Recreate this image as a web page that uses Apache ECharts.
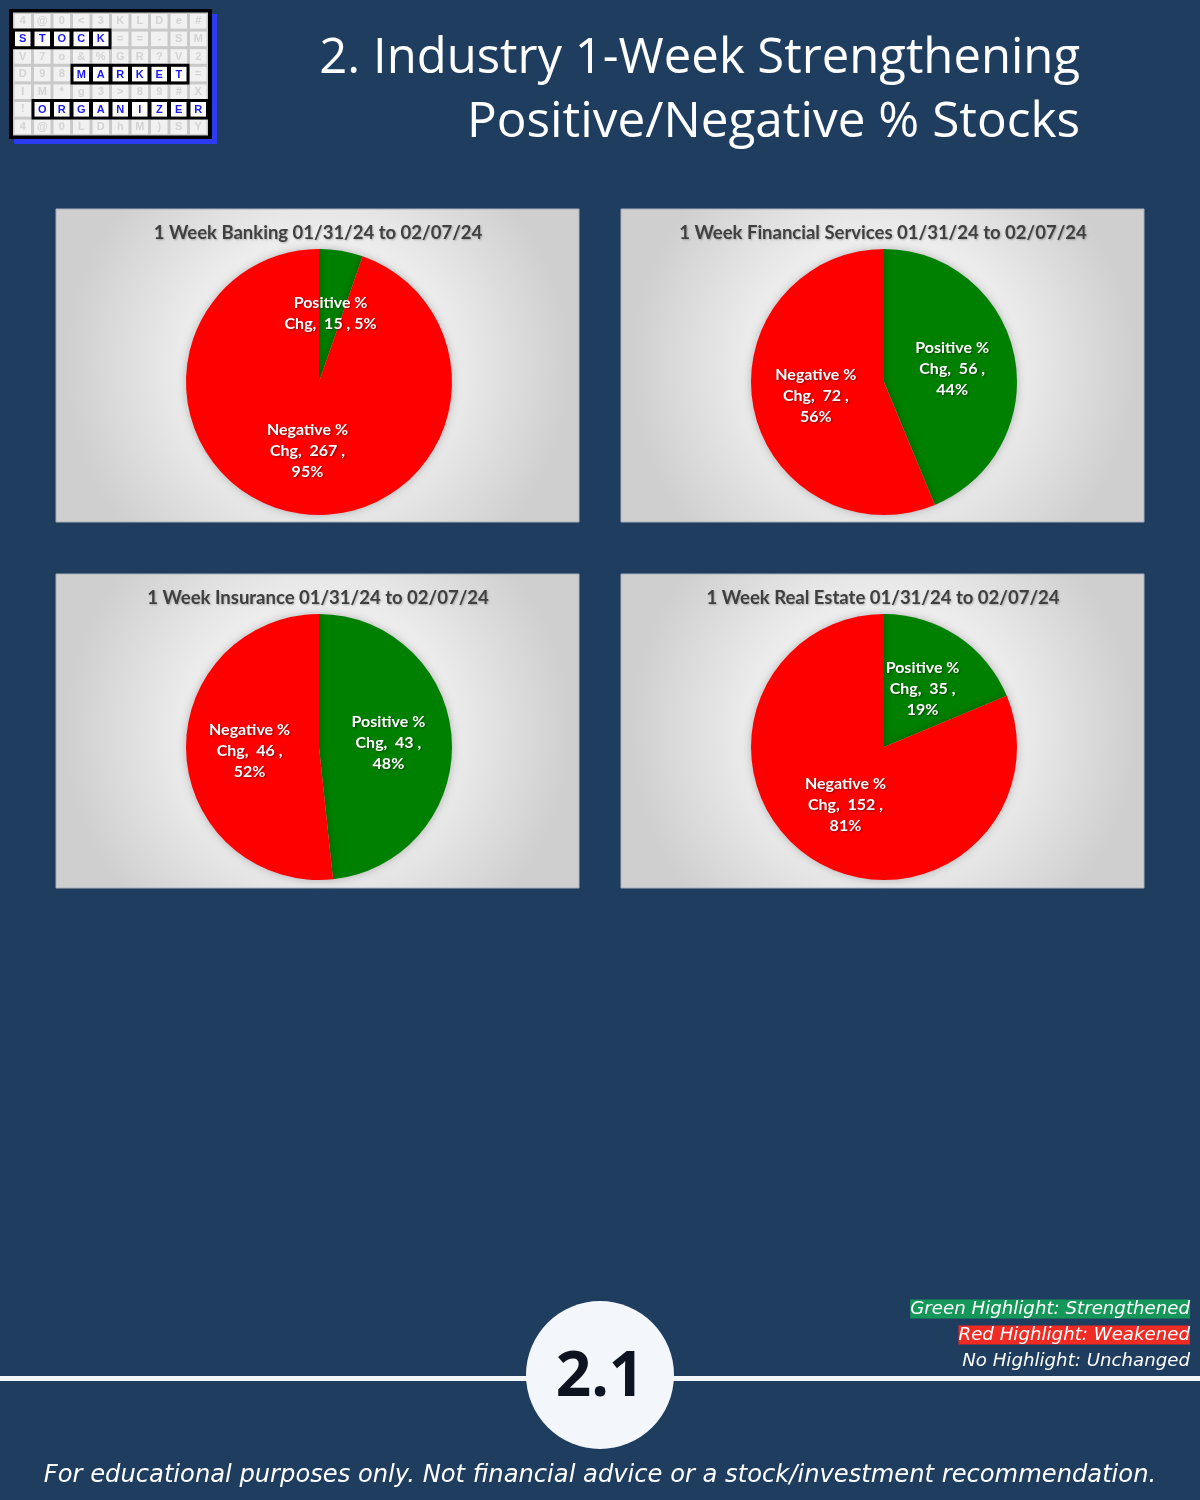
<!DOCTYPE html>
<html>
<head>
<meta charset="utf-8">
<script src="https://cdn.jsdelivr.net/npm/echarts@6/dist/echarts.min.js"></script>
<style>
html,body{margin:0;padding:0;background:#1e3d5f;}
#main{width:1200px;height:1500px;}
</style>
</head>
<body>
<div id="main"></div>
<script>
// ---- data ----
const categories = ['Positive % Chg', 'Negative % Chg'];
const chartTitles = [
  '1 Week Banking 01/31/24 to 02/07/24',
  '1 Week Financial Services 01/31/24 to 02/07/24',
  '1 Week Insurance 01/31/24 to 02/07/24',
  '1 Week Real Estate 01/31/24 to 02/07/24'
];
const positiveCounts = [15, 56, 43, 35];
const negativeCounts = [267, 72, 46, 152];
const pageTitle = ['2. Industry 1-Week Strengthening', 'Positive/Negative % Stocks'];
const legendTexts = ['Green Highlight: Strengthened', 'Red Highlight: Weakened', 'No Highlight: Unchanged'];
const pageNumber = '2.1';
const footerText = 'For educational purposes only. Not financial advice or a stock/investment recommendation.';

// ---- layout ----
const BG = '#1e3d5f';
const panels = [[56,209,523,313],[621,209,523,313],[56,574,523,314],[621,574,523,314]];
const sliceColors = ['#008000', '#ff0000'];

const chart = echarts.init(document.getElementById('main'), null, {width:1200, height:1500});

const graphic = [];

// logo
const logoRows = ['4@0<3KLDe#','STOCK==-SM','V7o&%GR?V2','D98MARKET=','IM*g3>89#X','!ORGANIZER','4@0LDhM)SY'];
const logoHi = [null,[0,4],null,[3,8],null,[1,9],null];
const lx0 = 13, ly0 = 12.5, cw = 19.5, ch = 17.6;
graphic.push({type:'rect', z:1, shape:{x:14,y:14,width:203,height:130}, style:{fill:'#2b3bf0'}});
graphic.push({type:'rect', z:1, shape:{x:9,y:9,width:203,height:130}, style:{fill:'#000'}});
graphic.push({type:'rect', z:1, shape:{x:13,y:12.5,width:195,height:123}, style:{fill:'#c9c9c9'}});
logoRows.forEach((row, r) => {
  for (let c = 0; c < 10; c++) {
    const hi = logoHi[r] && c >= logoHi[r][0] && c <= logoHi[r][1];
    if (!hi) {
      graphic.push({type:'rect', z:2, shape:{x:lx0+c*cw+1.5, y:ly0+r*ch+1.5, width:cw-3, height:ch-3}, style:{fill:'#f1f1f1'}});
      graphic.push({type:'text', z:3, x:lx0+c*cw+cw/2, y:ly0+r*ch+ch/2,
        style:{text:row[c], fill:'#d3d3d3', font:'bold 11px "Liberation Sans"', align:'center', verticalAlign:'middle'}});
    }
  }
  if (logoHi[r]) {
    const [a,b] = logoHi[r];
    graphic.push({type:'rect', z:3, shape:{x:lx0+a*cw-1, y:ly0+r*ch-1.5, width:(b-a+1)*cw+2, height:ch+3}, style:{fill:'#000'}});
    for (let c = a; c <= b; c++) {
      graphic.push({type:'rect', z:4, shape:{x:lx0+c*cw+2, y:ly0+r*ch+1.5, width:cw-4, height:ch-3}, style:{fill:'#ffffff'}});
      graphic.push({type:'text', z:5, x:lx0+c*cw+cw/2, y:ly0+r*ch+ch/2+0.5,
        style:{text:row[c], fill:'#1a1af5', font:'bold 11px "Liberation Sans"', align:'center', verticalAlign:'middle'}});
    }
  }
});

// page title
graphic.push({type:'text', z:5, x:1080, y:59, style:{text:pageTitle[0], fill:'#ffffff', font:'400 49px "Open Sans"', align:'right', verticalAlign:'middle'}});
graphic.push({type:'text', z:5, x:1080, y:123, style:{text:pageTitle[1], fill:'#ffffff', font:'400 49.5px "Open Sans"', align:'right', verticalAlign:'middle'}});

// panels
panels.forEach((p, i) => {
  graphic.push({type:'rect', z:0, shape:{x:p[0], y:p[1], width:p[2], height:p[3]},
    style:{fill:new echarts.graphic.RadialGradient(0.5,0.5,0.8,[{offset:0,color:'#ffffff'},{offset:0.4,color:'#f4f4f4'},{offset:1,color:'#cfcfcf'}]), stroke:'#a9b1ba', lineWidth:1}});
  graphic.push({type:'text', z:5, x:p[0]+262, y:p[1]+24,
    style:{text:chartTitles[i], fill:'#404040', font:'bold 18.5px Lato', align:'center', verticalAlign:'middle',
      textShadowColor:'rgba(0,0,0,0.25)', textShadowBlur:2, textShadowOffsetX:1, textShadowOffsetY:1}});
});

// bottom
graphic.push({type:'rect', z:1, shape:{x:0, y:1376, width:1200, height:5}, style:{fill:'#f3f6fa'}});
graphic.push({type:'circle', z:2, shape:{cx:600, cy:1375, r:74}, style:{fill:'#f3f6fa'}});
graphic.push({type:'text', z:3, x:600, y:1378, style:{text:pageNumber, fill:'#0d1320', font:'bold 62px "Open Sans"', align:'center', verticalAlign:'middle'}});

const legendBg = ['#16975a', '#ef2b24', null];
legendTexts.forEach((t, i) => {
  const st = {text:t, fill:'#ffffff', font:'oblique 18.2px "DejaVu Sans"', align:'right', verticalAlign:'middle'};
  if (legendBg[i]) { st.backgroundColor = legendBg[i]; st.padding = [1,0,0,0]; }
  graphic.push({type:'text', z:5, x:1190, y:1309 + i*26, style:st});
});

graphic.push({type:'text', z:5, x:600, y:1476, style:{text:footerText, fill:'#ffffff', font:'oblique 24.2px "DejaVu Sans"', align:'center', verticalAlign:'middle'}});

// pies
const series = panels.map((p, i) => ({
  type:'pie',
  z:5,
  center:[p[0]+263, p[1]+173],
  radius:133,
  startAngle:90,
  clockwise:true,
  animation:false,
  avoidLabelOverlap:false,
  itemStyle:{shadowBlur:8, shadowColor:'rgba(0,0,0,0.25)'},
  label:{
    show:true, position:'inside', color:'#ffffff',
    fontFamily:'Lato', fontWeight:'bold', fontSize:16, lineHeight:21, align:'center',
    textShadowColor:'rgba(0,0,0,0.45)', textShadowBlur:2, textShadowOffsetX:1, textShadowOffsetY:1,
    formatter: function (prm) {
      const pct = Math.round(prm.percent);
      const head = prm.name.replace(' Chg', '');
      let l2 = 'Chg,  ' + prm.value + ' , ' + pct + '%';
      if (l2.length > 13) l2 = 'Chg,  ' + prm.value + ' ,\n' + pct + '%';
      return head + '\n' + l2;
    }
  },
  labelLine:{show:false},
  emphasis:{disabled:true},
  data:[
    {name:categories[0], value:positiveCounts[i], itemStyle:{color:sliceColors[0]}},
    {name:categories[1], value:negativeCounts[i], itemStyle:{color:sliceColors[1]}}
  ]
}));

chart.setOption({backgroundColor:BG, animation:false, graphic:graphic, series:series});
</script>
</body>
</html>
